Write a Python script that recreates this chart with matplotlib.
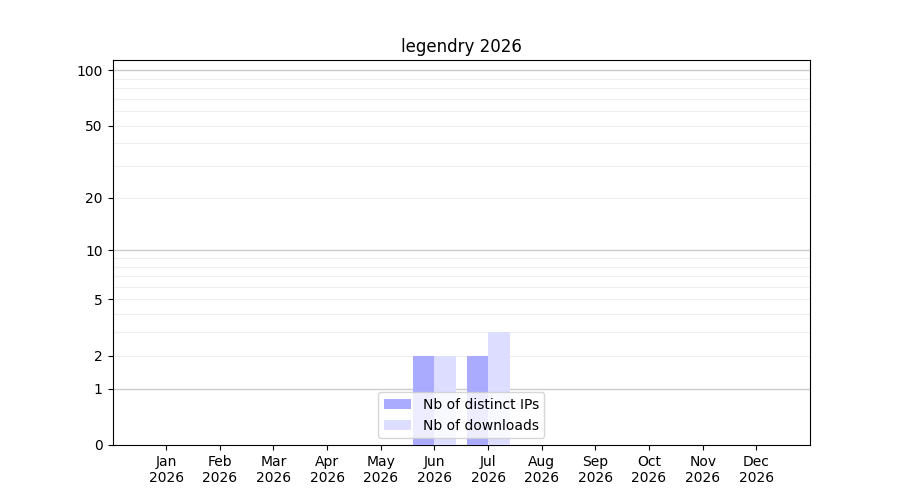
import numpy as np
import matplotlib
matplotlib.use("Agg")
import matplotlib.pyplot as plt
from matplotlib.ticker import FixedLocator, FixedFormatter

months = ["Jan\n2026", "Feb\n2026", "Mar\n2026", "Apr\n2026", "May\n2026", "Jun\n2026",
          "Jul\n2026", "Aug\n2026", "Sep\n2026", "Oct\n2026", "Nov\n2026", "Dec\n2026"]
distinct_ips = [0, 0, 0, 0, 0, 2, 2, 0, 0, 0, 0, 0]
downloads = [0, 0, 0, 0, 0, 2, 3, 0, 0, 0, 0, 0]
yticks = [0, 1, 2, 5, 10, 20, 50, 100]
title = "legendry 2026"

fig, ax = plt.subplots(figsize=(9, 5), dpi=100)
ax.set_yscale('function', functions=(lambda v: np.log10(1 + np.clip(v, 0, None)),
                                      lambda v: 10 ** v - 1))
x = np.arange(len(months))
w = 0.4
ax.bar(x, distinct_ips, width=-w, align='edge', color='#aaaaff', label='Nb of distinct IPs', zorder=3)
ax.bar(x, downloads, width=w, align='edge', color='#ddddff', label='Nb of downloads', zorder=3)

ax.set_xlim(-1, 12)
ax.set_ylim(0, 113.5)
ax.set_xticks(x)
ax.set_xticklabels(months)
ax.yaxis.set_major_locator(FixedLocator(yticks))
ax.yaxis.set_major_formatter(FixedFormatter([str(t) for t in yticks]))
minor = [v for v in list(range(2, 10)) + list(range(20, 100, 10))]
ax.yaxis.set_minor_locator(FixedLocator(minor))
ax.tick_params(axis='y', which='minor', length=0)
for v in [1, 10, 100]:
    ax.axhline(v, color='#cccccc', lw=1, zorder=1)
for v in minor:
    ax.axhline(v, color='#eeeeee', lw=0.8, zorder=1)
ax.set_title(title)
ax.legend(loc='lower center')
fig.savefig("out.png")
